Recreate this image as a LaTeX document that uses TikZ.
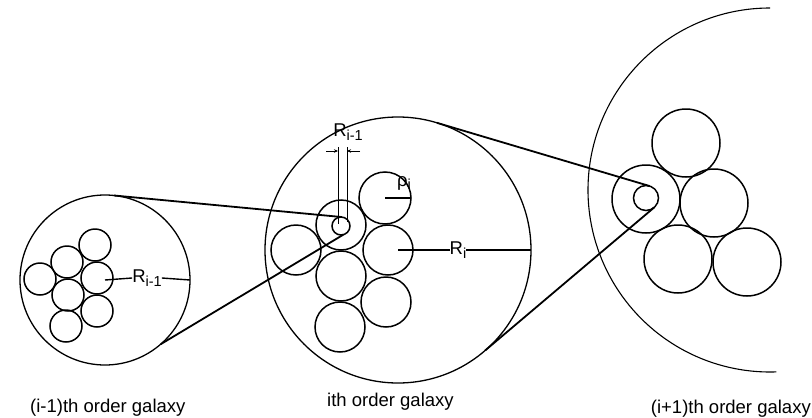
\documentclass[tikz,border=0pt]{standalone}
\usepackage{fontspec}
\setmainfont{Liberation Sans}
\usetikzlibrary{arrows.meta}
\newcommand{\lbl}{\fontsize{18.5}{18.5}\selectfont}
\newcommand{\sbs}[1]{\raisebox{-3.5pt}{\fontsize{14.5}{14.5}\selectfont #1}}
\begin{document}
\begin{tikzpicture}[x=1pt,y=-1pt,
  gal/.style={circle, draw, inner sep=0pt, outer sep=0pt, line width=1.3pt},
  sm/.style={circle, draw, inner sep=0pt, outer sep=0pt, line width=1.5pt},
  conn/.style={line width=1.8pt},
  rad/.style={line width=1.4pt},
  txt/.style={inner sep=0pt, font=\lbl},
  dim/.style={line width=0.9pt},
  arr/.style={line width=0.9pt, -{Stealth[length=4pt,width=3.5pt]}}]
\useasboundingbox (0,0) rectangle (812,418);

% (i-1)th order galaxy
\node[gal, minimum size=170pt] (L) at (105,280) {};
\node[sm, minimum size=32pt] (l1) at (95,245) {};
\node[sm, minimum size=32pt] (l2) at (67,262) {};
\node[sm, minimum size=32pt] (l3) at (40,279) {};
\node[sm, minimum size=32pt] (l4) at (97,278) {};
\node[sm, minimum size=32pt] (l5) at (68,295) {};
\node[sm, minimum size=32pt] (l6) at (97,311) {};
\node[sm, minimum size=32pt] (l7) at (66,326) {};
\node[txt] (RL) at (147,278) {R\sbs{i-1}};
\draw[rad] (L.center) -- (RL.west);
\draw[rad] (RL.east) -- (L.east);

% ith order galaxy
\node[gal, minimum size=266pt] (M) at (398,250) {};
\node[sm, minimum size=52pt] (P) at (385,198) {};
\node[sm, minimum size=50pt] (mr) at (341,225) {};
\node[sm, minimum size=18pt] (mi) at (341,226) {};
\node[sm, minimum size=50pt] (m1) at (296,250) {};
\node[sm, minimum size=50pt] (m2) at (388,250) {};
\node[sm, minimum size=50pt] (m3) at (341,276) {};
\node[sm, minimum size=50pt] (m4) at (386,302) {};
\node[sm, minimum size=50pt] (m5) at (340,327) {};
\node[txt] (RP) at (404,183) {ρ\sbs{i}};
\draw[rad] (P.center) -- (P.east);
\node[txt] (RM) at (458,250) {R\sbs{i}};
\draw[rad] (M.center) -- (RM.west);
\draw[rad] (RM.east) -- (M.east);
\node[txt] (RT) at (348,132) {R\sbs{i-1}};
\coordinate (va) at (338,147);
\coordinate (vb) at (338,224);
\coordinate (wa) at (347,147);
\coordinate (wb) at (347,222);
\draw[dim] (va) -- (vb);
\draw[dim] (wa) -- (wb);
\coordinate (aa) at (326,151);
\coordinate (ab) at (338,151);
\coordinate (ba) at (360,151);
\coordinate (bb) at (347,151);
\draw[arr] (aa) -- (ab);
\draw[arr] (ba) -- (bb);

% (i+1)th order galaxy
\draw[line width=1.1pt] (770,8) arc[start angle=90, end angle=272, radius=182pt];
\node[sm, minimum size=68pt] (rr) at (646,199) {};
\node[sm, minimum size=25pt] (ri) at (646,198) {};
\node[sm, minimum size=68pt] (r1) at (686,143) {};
\node[sm, minimum size=68pt] (r2) at (714,203) {};
\node[sm, minimum size=68pt] (r3) at (678,259) {};
\node[sm, minimum size=68pt] (r4) at (747,262) {};

% connectors
\draw[conn] (L.84.6) -- (mi.84);
\draw[conn] (L.-49) -- (mi.-75);
\draw[conn] (M.73.4) -- (ri.73.4);
\draw[conn] (M.-49.8) -- (ri.-49.8);

% captions
\node[txt, anchor=base west] (c1) at (30,412) {(i-1)th order galaxy};
\node[txt, anchor=base west] (c2) at (327,406) {ith order galaxy};
\node[txt, anchor=base east] (c3) at (811,413) {(i+1)th order galaxy};
\end{tikzpicture}
\end{document}
